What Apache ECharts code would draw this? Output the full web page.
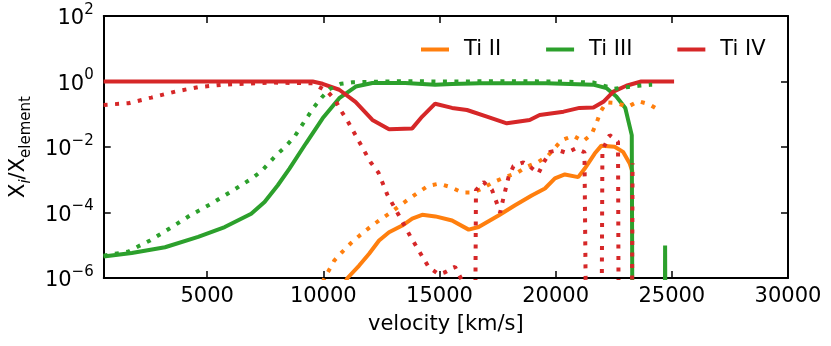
<!DOCTYPE html>
<html>
<head>
<meta charset="utf-8">
<script src="https://cdn.jsdelivr.net/npm/echarts@6/dist/echarts.min.js"></script>
<style>
html, body { margin: 0; padding: 0; background: #fff; }
#main { width: 831px; height: 346px; }
</style>
</head>
<body>
<div id="main"></div>
<script>
// Ti II solid
var tiII_v = [10956, 11042, 11543, 11972, 12400, 12829, 13399, 13827, 14256, 14826, 15541, 16257, 16685, 17542, 18253, 18969, 19539, 19967, 20396, 20970, 21253, 21681, 21969, 22539, 22899, 23182, 23310];
var tiII_x = [7.7e-7, 1.0e-6, 2.4e-6, 5.5e-6, 1.4e-5, 2.5e-5, 4.0e-5, 6.5e-5, 8.5e-5, 7.6e-5, 5.7e-5, 3.0e-5, 3.6e-5, 8.1e-5, 1.66e-4, 3.3e-4, 5.4e-4, 1.1e-3, 1.45e-3, 1.2e-3, 2.2e-3, 6.3e-3, 0.011, 0.0102, 7.1e-3, 3.2e-3, 1.7e-3];
// Ti II dotted
var tiIIdot_v = [9971, 10056, 10472, 10828, 11183, 11569, 11972, 12400, 12829, 13257, 13656, 14084, 14513, 14971, 15468, 15970, 16471, 16899, 17328, 17825, 18326, 18755, 19256, 19685, 20254, 20756, 21176, 21540, 21754, 21926, 22183, 22611, 23113, 23567, 24039, 24398];
var tiIIdot_x = [7.5e-7, 1.0e-6, 3.4e-6, 6.4e-6, 1.15e-5, 2.0e-5, 3.4e-5, 5.7e-5, 9.2e-5, 1.55e-4, 2.5e-4, 4.1e-4, 6.5e-4, 7.6e-4, 6.0e-4, 4.1e-4, 4.1e-4, 5.7e-4, 8.5e-4, 1.2e-3, 1.6e-3, 2.5e-3, 3.5e-3, 5.6e-3, 0.016, 0.022, 0.015, 0.024, 0.053, 0.118, 0.23, 0.22, 0.17, 0.25, 0.2, 0.14];
// Ti III solid
var tiIII_v = [544, 1756, 3187, 4614, 5758, 6898, 7472, 8042, 8544, 9255, 9971, 10686, 11398, 12113, 13527, 14813, 15541, 16741, 19612, 21613, 22183, 22611, 22997, 23276, 23310, 24690, 24711, 24732];
var tiIII_x = [4.5e-6, 5.8e-6, 8.7e-6, 1.8e-5, 3.6e-5, 9.2e-5, 2.1e-4, 6.8e-4, 2.2e-3, 0.013, 0.075, 0.31, 0.7, 0.9, 0.9, 0.8, 0.84, 0.88, 0.88, 0.8, 0.63, 0.35, 0.156, 0.023, 1e-9, 1e-9, 9.8e-6, 1e-9];
// Ti III dotted
var tiIIIdot_v = [544, 1045, 1615, 2043, 2545, 3402, 4259, 5184, 6041, 6928, 7327, 7969, 8398, 8758, 9041, 9328, 9615, 9941, 10258, 10755, 11256, 13399, 15541, 17684, 20255, 21613, 22526, 23040, 23567, 24068, 24154];
var tiIIIdot_x = [4.8e-6, 5.5e-6, 6.4e-6, 9.3e-6, 1.4e-5, 3.3e-5, 8.1e-5, 1.86e-4, 4.4e-4, 1.1e-3, 1.8e-3, 5.6e-3, 0.0107, 0.0205, 0.042, 0.085, 0.17, 0.33, 0.58, 0.85, 0.95, 1.02, 1.0, 1.02, 1.0, 0.93, 0.6, 0.67, 0.74, 0.79, 0.79];
// Ti IV solid
var tiIV_v = [544, 9542, 9970, 10686, 11385, 12113, 12829, 13827, 14256, 14813, 15541, 16184, 17041, 17898, 18883, 19312, 20340, 21026, 21626, 22054, 22483, 23040, 23683, 25097];
var tiIV_x = [1.0, 1.0, 0.85, 0.56, 0.24, 0.067, 0.035, 0.037, 0.085, 0.21, 0.156, 0.135, 0.085, 0.053, 0.067, 0.095, 0.12, 0.156, 0.16, 0.24, 0.49, 0.74, 1.0, 1.0];
// Ti IV dotted
var tiIVdot_v = [544, 1615, 2600, 3629, 4614, 5600, 6628, 7742, 9542, 10185, 10528, 10742, 11042, 11543, 12027, 12370, 12756, 13257, 13741, 14256, 14543, 14971, 15241, 15670, 15948, 16055, 16527, 16570, 16899, 17255, 17440, 17611, 17726, 17971, 18185, 18613, 18896, 19256, 19470, 19753, 20113, 20469, 20867, 21240, 21326, 21969, 22012, 22325, 22684, 22719, 23276, 23310];
var tiIVdot_x = [0.193, 0.217, 0.323, 0.493, 0.673, 0.79, 0.85, 0.93, 0.88, 0.49, 0.26, 0.135, 0.063, 0.0145, 3.5e-3, 1.66e-3, 3.5e-4, 8.1e-5, 1.9e-5, 4.6e-6, 2.1e-6, 1.3e-6, 1.5e-6, 2.2e-6, 9e-7, 1e-7, 1e-9, 4.8e-4, 8.5e-4, 5e-4, 2.2e-4, 1.0e-4, 2.3e-4, 1.2e-3, 2.6e-3, 3.4e-3, 2.5e-3, 1.55e-3, 3.2e-3, 7.1e-3, 8e-3, 6.6e-3, 9.1e-3, 6.9e-3, 1e-9, 1e-9, 8e-3, 0.023, 0.0145, 1e-9, 1e-9, 3.2e-3];

var legendNames = ['Ti II', 'Ti III', 'Ti IV'];
var colors = ['#ff7f0e', '#2ca02c', '#d62728'];

function zip(v, x) {
  return v.map(function (d, i) { return [d, x[i]]; });
}

var font = 'DejaVu Sans';
var dots = [4, 7.5];

function makeSeries(name, color, v, x, dotted) {
  return {
    name: name,
    type: 'line',
    data: zip(v, x),
    showSymbol: false,
    symbol: 'none',
    clip: true,
    silent: true,
    color: color,
    lineStyle: { color: color, width: 4, type: dotted ? dots : 'solid', cap: 'butt' }
  };
}

var chart = echarts.init(document.getElementById('main'));

function supLabel(v) {
  var e = Math.round(Math.log10(v));
  return '{b|10}{s|' + (e < 0 ? '\u2212' + (-e) : e) + '}';
}

var tickStyle = { inside: true, length: 7, lineStyle: { color: '#000', width: 1.5 } };
var lineStyleAx = { color: '#000', width: 2 };

var option = {
  animation: false,
  grid: { left: 100, top: 16, right: 43, bottom: 68 },
  legend: {
    data: legendNames,
    left: 416, top: 34,
    icon: 'rect',
    itemWidth: 28, itemHeight: 4,
    itemGap: 45,
    textStyle: { fontFamily: font, fontSize: 21, color: '#000', padding: [0, 0, 0, 10] }
  },
  xAxis: [{
    type: 'value', min: 550, max: 30000,
    axisLine: { show: true, lineStyle: lineStyleAx },
    axisTick: tickStyle,
    splitLine: { show: false },
    axisLabel: {
      margin: 8, fontFamily: font, fontSize: 21, color: '#000',
      formatter: function (v) { return v % 5000 === 0 ? String(v) : ''; }
    },
    name: 'velocity [km/s]', nameLocation: 'middle', nameGap: 36,
    nameTextStyle: { fontFamily: font, fontSize: 21, color: '#000' }
  }, {
    type: 'value', min: 550, max: 30000, position: 'top',
    axisLine: { show: true, lineStyle: lineStyleAx },
    axisTick: tickStyle,
    splitLine: { show: false },
    axisLabel: { show: false }
  }],
  yAxis: [{
    type: 'log', logBase: 10, min: 1e-6, max: 1e2, interval: 2,
    axisLine: { show: true, lineStyle: lineStyleAx },
    axisTick: tickStyle,
    splitLine: { show: false },
    minorTick: { show: false },
    axisLabel: {
      margin: 10,
      formatter: supLabel,
      rich: {
        b: { fontFamily: font, fontSize: 21, color: '#000', verticalAlign: 'bottom', padding: [6, 0, 0, 0] },
        s: { fontFamily: font, fontSize: 15, color: '#000', verticalAlign: 'top' }
      }
    },
    name: '{n|X}{i|i}{n|/X}{sub|element}',
    nameLocation: 'middle', nameRotate: 90, nameGap: 66,
    nameTextStyle: {
      rich: {
        n: { fontFamily: font, fontSize: 21, color: '#000', verticalAlign: 'bottom', padding: [0, 0, 0, 0] },
        i: { fontFamily: font, fontSize: 15, fontStyle: 'italic', color: '#000', verticalAlign: 'bottom', padding: [0, 0, -5, 0] },
        sub: { fontFamily: font, fontSize: 15, color: '#000', verticalAlign: 'bottom', padding: [0, 0, -5, 0] }
      }
    }
  }, {
    type: 'log', logBase: 10, min: 1e-6, max: 1e2, interval: 2, position: 'right',
    axisLine: { show: true, lineStyle: lineStyleAx },
    axisTick: tickStyle,
    splitLine: { show: false },
    axisLabel: { show: false }
  }],
  series: [
    makeSeries('Ti II', colors[0], tiII_v, tiII_x, false),
    makeSeries('Ti III', colors[1], tiIII_v, tiIII_x, false),
    makeSeries('Ti IV', colors[2], tiIV_v, tiIV_x, false),
    makeSeries('Ti II', colors[0], tiIIdot_v, tiIIdot_x, true),
    makeSeries('Ti III', colors[1], tiIIIdot_v, tiIIIdot_x, true),
    makeSeries('Ti IV', colors[2], tiIVdot_v, tiIVdot_x, true)
  ]
};

chart.setOption(option);
</script>
</body>
</html>
